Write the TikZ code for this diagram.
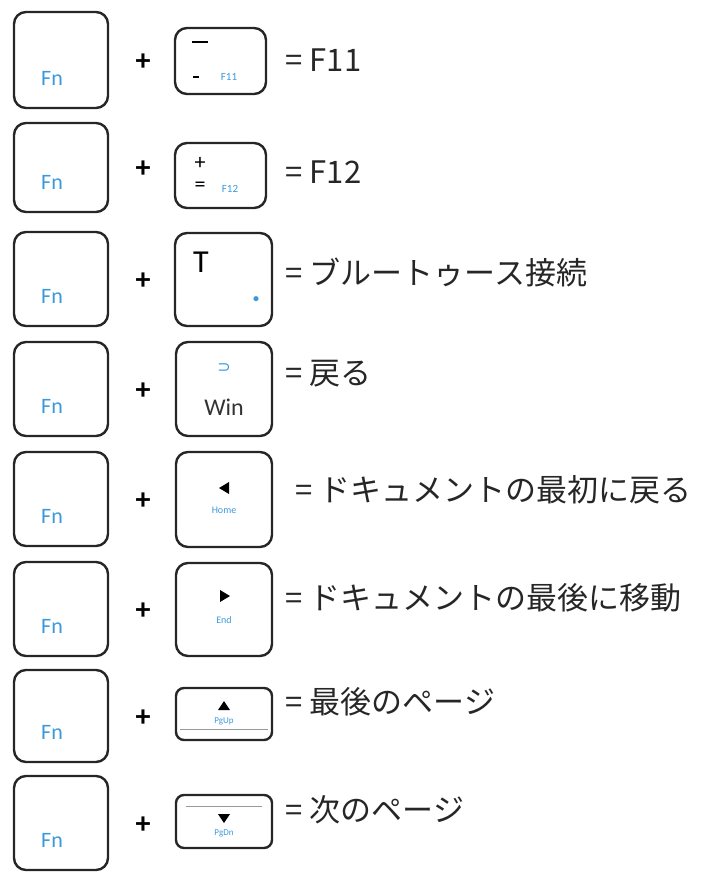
\documentclass[tikz,border=0pt]{standalone}
\usepackage{fontspec}
\setmainfont{Carlito}
\newfontfamily\jp{Noto Sans CJK JP}
\newfontfamily\dv{DejaVu Sans}
\begin{document}
\begin{tikzpicture}[x=1pt,y=-1pt,
 key/.style={draw=black!85,line width=2.4pt,rounded corners=12pt},
 fn/.style={text=cyan!70!blue!80,font=\fontsize{22}{22}\selectfont},
 cy/.style={text=cyan!70!blue!80},
 plus/.style={font=\fontsize{30}{30}\selectfont\bfseries},
 lab/.style={anchor=west,font=\fontsize{31}{31}\selectfont\jp,text=black!85}]
\useasboundingbox (0,0) rectangle (706,873);
% Fn keys
\foreach \t/\b [count=\i] in {12/108,123/212,232/326,342/436,452/546,562/656,670/762,776/870}{
 \draw[key] (14,\t) rectangle (108,\b);
 \node[fn] (fn\i) at (52,{\b-30}) {Fn};
 \node[plus] (p\i) at (143,{(\t+\b)/2+2}) {+};
}
% key 1
\draw[key] (175,28) rectangle (266,94);
\draw[line width=1.3pt] (192,42)--(208,42); \draw[line width=1.3pt] (193,77)--(199,77);
\node[cy,font=\fontsize{11}{11}\selectfont] (k1) at (229,77) {F11};
\node[lab] (l1) at (282,60) {= F11};
% key 2
\draw[key] (175,143) rectangle (266,208);
\node[font=\fontsize{22}{22}\selectfont] at (200,163) {+};
\node[font=\fontsize{22}{22}\selectfont] at (200,187) {=};
\node[cy,font=\fontsize{11}{11}\selectfont] (k2) at (230,189) {F12};
\node[lab] (l2) at (282,172) {= F12};
% key 3
\draw[key] (175,233) rectangle (272,326);
\node[font=\fontsize{32}{32}\selectfont] at (201,262) {T};
\node[cy,font=\fontsize{12}{12}\selectfont\bfseries] at (256,300) {\textbullet};
\node[lab] (l3) at (282,272) {= ブルートゥース接続};
% key 4
\draw[key] (176,342) rectangle (272,436);
\node[cy,font=\fontsize{16}{16}\selectfont\dv] at (224,368) {⊃};
\node[font=\fontsize{24}{24}\selectfont,text=black!80] at (224,407) {Win};
\node[lab] (l4) at (282,374) {= 戻る};
% key 5
\draw[key] (176,452) rectangle (272,547);
\fill (229,482)--(219,488)--(229,494)--cycle;
\node[cy,font=\fontsize{10}{10}\selectfont] at (224,510) {Home};
\node[lab] (l5) at (292,490) {= ドキュメントの最初に戻る};
% key 6
\draw[key] (176,563) rectangle (272,656);
\fill (220,590)--(230,596)--(220,602)--cycle;
\node[cy,font=\fontsize{10}{10}\selectfont] at (224,620) {End};
\node[lab] (l6) at (282,598) {= ドキュメントの最後に移動};
% key 7
\draw[key,rounded corners=8pt] (176,688) rectangle (272,740);
\draw[black!40,line width=1pt] (180,729)--(268,729);
\fill (224,701)--(218,710)--(230,710)--cycle;
\node[cy,font=\fontsize{9}{9}\selectfont] at (224,721) {PgUp};
\node[lab] (l7) at (282,702) {= 最後のページ};
% key 8
\draw[key,rounded corners=8pt] (176,795) rectangle (272,848);
\draw[black!40,line width=1pt] (186,806)--(262,806);
\fill (218,814)--(230,814)--(224,823)--cycle;
\node[cy,font=\fontsize{9}{9}\selectfont] at (224,833) {PgDn};
\node[lab] (l8) at (282,810) {= 次のページ};
\end{tikzpicture}
\end{document}
